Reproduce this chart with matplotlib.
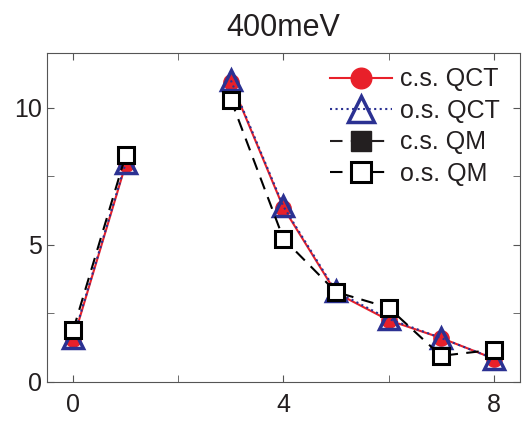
import matplotlib
matplotlib.use('Agg')
import matplotlib.pyplot as plt
import numpy as np
from matplotlib.ticker import MultipleLocator

plt.rcParams['font.family'] = ['Liberation Sans', 'DejaVu Sans']

# Data (NaN at x=2 leaves the gap)
x = [0, 1, 2, 3, 4, 5, 6, 7, 8]
cs_qct = [1.55, 7.95, np.nan, 10.95, 6.35, 3.25, 2.25, 1.6, 0.85]
os_qct = [1.6, 8.0, np.nan, 11.0, 6.4, 3.3, 2.3, 1.6, 0.85]
cs_qm = []
os_qm = [1.9, 8.28, np.nan, 10.3, 5.22, 3.28, 2.71, 0.95, 1.17]

fig = plt.figure(figsize=(5.22, 4.21), dpi=100)
ax = fig.add_axes([0.09, 0.093, 0.906, 0.781])

ax.plot(x, cs_qct, '-', color='#e8202a', lw=1.5, marker='o', ms=11,
        mfc='#e8202a', mec='#e8202a', label='c.s. QCT', zorder=3)
ax.plot(x, os_qct, ':', color='#2b3192', lw=1.5, marker='^', ms=14,
        mfc='none', mec='#2b3192', mew=2.5, label='o.s. QCT', zorder=4)
ax.plot(cs_qm, cs_qm, '--', color='#231f20', lw=1.5, marker='s', ms=11,
        mfc='#231f20', mec='#231f20', dashes=(6, 4), label='c.s. QM')
ax.plot(x, os_qm, '--', color='black', lw=1.5, marker='s', ms=11,
        mfc='white', mec='black', mew=2.2, dashes=(6, 4), label='o.s. QM', zorder=5)

ax.set_xlim(-0.5, 8.5)
ax.set_ylim(0, 12)
ax.xaxis.set_major_locator(MultipleLocator(4))
ax.xaxis.set_minor_locator(MultipleLocator(2))
ax.yaxis.set_major_locator(MultipleLocator(5))
ax.yaxis.set_minor_locator(MultipleLocator(2.5))
ax.tick_params(which='both', direction='in', top=True, right=True,
               labelsize=18, color='#555555', labelcolor='#231f20', length=5)
ax.tick_params(axis='x', pad=8)
for s in ax.spines.values():
    s.set_color('#555555')

ax.set_title('400meV', fontsize=22, pad=12, color='#231f20')

leg = ax.legend(loc='upper right', bbox_to_anchor=(1.005, 1.025),
                frameon=False, fontsize=18,
                handlelength=2.5, handletextpad=0.3, labelspacing=0.3,
                markerscale=1.35)
for t in leg.get_texts():
    t.set_color('#231f20')

fig.savefig('out.png', dpi=100)
